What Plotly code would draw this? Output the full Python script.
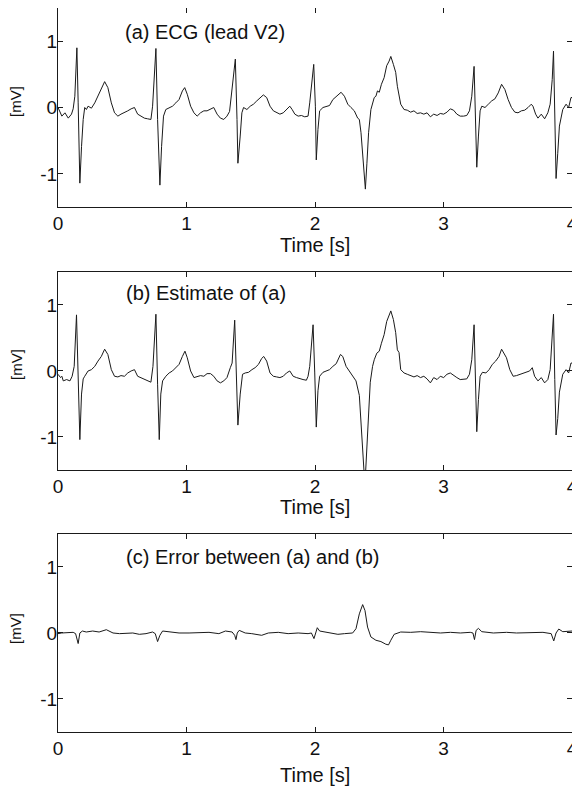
import plotly.graph_objects as go

# (a) ECG lead V2
t_a = [0.00, 0.03, 0.054, 0.08, 0.105, 0.118, 0.131, 0.147, 0.157, 0.170, 0.183, 0.196, 0.208, 0.221, 0.234,
       0.26, 0.286, 0.311, 0.337, 0.363, 0.388, 0.415, 0.44, 0.466, 0.49, 0.517, 0.543, 0.569, 0.595, 0.607,
       0.62, 0.646, 0.672, 0.697, 0.723, 0.736, 0.762, 0.775, 0.793, 0.806, 0.821, 0.839, 0.865, 0.891, 0.917,
       0.942, 0.968, 0.986, 1.006, 1.032, 1.058, 1.083, 1.109, 1.135, 1.16, 1.187, 1.212, 1.238, 1.264, 1.29,
       1.315, 1.335, 1.355, 1.38, 1.393, 1.40, 1.418, 1.431, 1.444, 1.47, 1.496, 1.521, 1.547, 1.573, 1.598,
       1.624, 1.65, 1.676, 1.701, 1.727, 1.753, 1.778, 1.804, 1.822, 1.843, 1.869, 1.894, 1.92, 1.946, 1.959,
       1.972, 1.99, 2.003, 2.01, 2.023, 2.036, 2.062, 2.087, 2.113, 2.139, 2.165, 2.203, 2.229, 2.255, 2.28,
       2.306, 2.332, 2.345, 2.358, 2.371, 2.384, 2.392, 2.404, 2.417, 2.435, 2.448, 2.461, 2.474, 2.486, 2.5,
       2.517, 2.538, 2.558, 2.577, 2.59, 2.61, 2.628, 2.641, 2.654, 2.667, 2.693, 2.718, 2.744, 2.77, 2.795,
       2.821, 2.847, 2.872, 2.898, 2.924, 2.95, 2.975, 3.001, 3.027, 3.053, 3.078, 3.104, 3.13, 3.156, 3.181,
       3.202, 3.22, 3.238, 3.249, 3.259, 3.272, 3.285, 3.298, 3.323, 3.349, 3.375, 3.4, 3.426, 3.452, 3.465,
       3.478, 3.503, 3.529, 3.555, 3.58, 3.606, 3.632, 3.658, 3.683, 3.696, 3.717, 3.735, 3.761, 3.787, 3.812,
       3.83, 3.846, 3.856, 3.866, 3.876, 3.889, 3.902, 3.928, 3.954, 3.974, 3.992, 4.0]
v_a = [0.0, -0.13, -0.08, -0.16, -0.10, -0.02, 0.17, 0.90, 0.07, -1.14, -0.59, -0.18, 0.0, -0.03, 0.02,
       -0.01, 0.07, 0.17, 0.27, 0.39, 0.30, 0.07, -0.08, -0.13, -0.10, -0.08, -0.05, -0.02, 0.0, -0.05,
       -0.10, -0.13, -0.16, -0.17, -0.18, 0.02, 0.89, -0.18, -1.17, -0.59, -0.13, -0.03, 0.0, 0.02, 0.07,
       0.12, 0.25, 0.30, 0.20, 0.02, -0.08, -0.13, -0.08, -0.05, -0.05, -0.03, 0.0, -0.10, -0.16, -0.18,
       -0.13, -0.06, 0.27, 0.73, -0.18, -0.84, -0.43, -0.08, 0.0, -0.03, 0.02, 0.05, 0.10, 0.15, 0.19,
       0.15, 0.02, -0.05, -0.08, -0.10, -0.08, -0.03, 0.02, -0.03, -0.10, -0.13, -0.12, -0.14, -0.13, 0.07,
       0.32, 0.65, 0.02, -0.79, -0.33, -0.05, 0.0, 0.02, 0.03, 0.12, 0.16, 0.23, 0.17, 0.05, 0.0,
       -0.05, -0.16, -0.18, -0.38, -0.69, -1.04, -1.23, -0.84, -0.38, -0.03, 0.07, 0.15, 0.17, 0.25, 0.23,
       0.35, 0.45, 0.63, 0.70, 0.77, 0.65, 0.53, 0.32, 0.20, 0.05, -0.03, -0.04, -0.07, -0.05, -0.09,
       -0.08, -0.10, -0.08, -0.14, -0.10, -0.12, -0.09, -0.10, -0.07, -0.02, -0.04, -0.10, -0.13, -0.13, -0.12,
       -0.05, 0.17, 0.62, -0.18, -0.90, -0.43, -0.05, 0.02, 0.0, 0.05, 0.10, 0.13, 0.22, 0.35, 0.30,
       0.27, 0.12, 0.0, -0.07, -0.08, -0.05, -0.04, 0.0, 0.05, 0.02, -0.10, -0.16, -0.10, -0.17, -0.08,
       0.05, 0.42, 0.85, -0.18, -1.07, -0.69, -0.28, -0.03, 0.05, 0.0, 0.15, 0.15]

# (b) estimate of (a)
t_b = [0.00, 0.02, 0.03, 0.041, 0.067, 0.093, 0.11, 0.126, 0.144, 0.157, 0.17, 0.183, 0.196, 0.208, 0.234,
       0.26, 0.286, 0.311, 0.337, 0.363, 0.388, 0.415, 0.44, 0.466, 0.49, 0.517, 0.543, 0.569, 0.595, 0.62,
       0.646, 0.672, 0.697, 0.723, 0.739, 0.762, 0.775, 0.788, 0.80, 0.814, 0.839, 0.865, 0.891, 0.917, 0.942,
       0.968, 0.988, 1.006, 1.032, 1.058, 1.083, 1.109, 1.135, 1.16, 1.187, 1.212, 1.238, 1.264, 1.29, 1.315,
       1.341, 1.355, 1.375, 1.388, 1.40, 1.418, 1.436, 1.457, 1.483, 1.509, 1.534, 1.56, 1.585, 1.601, 1.624,
       1.65, 1.676, 1.701, 1.727, 1.753, 1.778, 1.804, 1.83, 1.856, 1.881, 1.907, 1.933, 1.946, 1.959, 1.972,
       1.985, 1.998, 2.01, 2.023, 2.036, 2.062, 2.087, 2.113, 2.139, 2.165, 2.198, 2.216, 2.242, 2.268, 2.293,
       2.319, 2.345, 2.358, 2.371, 2.384, 2.392, 2.404, 2.417, 2.43, 2.448, 2.461, 2.481, 2.5, 2.517, 2.538,
       2.558, 2.577, 2.59, 2.61, 2.628, 2.641, 2.654, 2.667, 2.693, 2.718, 2.744, 2.77, 2.795, 2.821, 2.847,
       2.872, 2.898, 2.924, 2.95, 2.975, 3.001, 3.027, 3.053, 3.078, 3.104, 3.13, 3.156, 3.181, 3.202, 3.22,
       3.238, 3.249, 3.259, 3.272, 3.285, 3.303, 3.33, 3.355, 3.38, 3.406, 3.432, 3.452, 3.47, 3.49, 3.516,
       3.542, 3.568, 3.593, 3.619, 3.645, 3.67, 3.691, 3.709, 3.735, 3.761, 3.787, 3.812, 3.83, 3.846, 3.856,
       3.866, 3.876, 3.889, 3.902, 3.928, 3.954, 3.974, 3.992, 4.0]
v_b = [-0.05, -0.10, -0.08, -0.15, -0.13, -0.15, -0.08, 0.07, 0.85, -0.20, -1.04, -0.35, -0.12, -0.08, 0.0,
       0.02, 0.07, 0.15, 0.22, 0.33, 0.25, 0.02, -0.08, -0.09, -0.07, -0.08, -0.03, 0.0, 0.02, -0.08,
       -0.10, -0.13, -0.14, -0.17, 0.07, 0.86, -0.20, -1.04, -0.35, -0.15, -0.08, -0.03, 0.0, 0.05, 0.10,
       0.22, 0.30, 0.20, 0.0, -0.10, -0.09, -0.07, -0.08, -0.04, -0.04, -0.08, -0.15, -0.18, -0.15, -0.10,
       0.05, 0.12, 0.77, -0.13, -0.82, -0.35, -0.05, -0.03, -0.02, 0.02, 0.05, 0.10, 0.19, 0.22, 0.15,
       -0.03, -0.08, -0.09, -0.10, -0.08, -0.03, 0.0, -0.08, -0.10, -0.12, -0.13, -0.14, -0.08, 0.07, 0.37,
       0.70, -0.03, -0.85, -0.30, -0.08, -0.02, 0.0, 0.02, 0.07, 0.11, 0.25, 0.22, 0.07, 0.0, -0.07,
       -0.15, -0.37, -0.72, -1.12, -1.60, -1.60, -1.12, -0.62, -0.17, 0.07, 0.17, 0.27, 0.30, 0.42, 0.55,
       0.75, 0.85, 0.91, 0.78, 0.58, 0.32, 0.28, 0.02, -0.03, -0.05, -0.07, -0.09, -0.07, -0.10, -0.08,
       -0.12, -0.18, -0.10, -0.13, -0.08, -0.10, -0.05, -0.03, -0.07, -0.10, -0.13, -0.12, -0.12, -0.05, 0.17,
       0.70, -0.20, -0.92, -0.43, -0.08, -0.02, -0.03, 0.02, 0.10, 0.15, 0.22, 0.33, 0.27, 0.20, 0.02,
       -0.08, -0.07, -0.05, -0.03, -0.02, 0.0, 0.05, -0.08, -0.15, -0.10, -0.18, -0.13, 0.02, 0.52, 0.86,
       -0.13, -0.97, -0.72, -0.32, -0.05, 0.02, -0.03, 0.12, 0.12]

# (c) error between (a) and (b)
t_c = [0.0, 0.028, 0.118, 0.137, 0.157, 0.17, 0.19, 0.22, 0.27, 0.32, 0.376, 0.428, 0.479, 0.53, 0.582,
       0.633, 0.685, 0.736, 0.757, 0.775, 0.793, 0.814, 0.865, 0.942, 1.02, 1.097, 1.175, 1.252, 1.303, 1.355,
       1.375, 1.385, 1.395, 1.41, 1.457, 1.508, 1.585, 1.637, 1.714, 1.791, 1.869, 1.946, 1.972, 1.992, 2.003,
       2.018, 2.036, 2.075, 2.127, 2.178, 2.23, 2.293, 2.319, 2.345, 2.371, 2.389, 2.409, 2.435, 2.474, 2.513,
       2.551, 2.572, 2.59, 2.616, 2.667, 2.745, 2.822, 2.899, 2.977, 3.054, 3.131, 3.208, 3.229, 3.241, 3.254,
       3.272, 3.298, 3.388, 3.491, 3.568, 3.671, 3.774, 3.838, 3.858, 3.876, 3.897, 3.928, 4.0]
v_c = [-0.01, 0.0, 0.01, -0.01, -0.16, 0.0, 0.03, 0.015, 0.03, 0.015, 0.05, 0.0, -0.01, -0.01, 0.0,
       -0.02, -0.01, 0.015, -0.01, -0.13, -0.035, 0.03, 0.015, 0.0, 0.0, 0.0, 0.01, -0.01, 0.03, 0.015,
       -0.035, -0.10, 0.0, 0.04, 0.0, -0.01, -0.035, 0.0, 0.01, -0.01, 0.0, -0.01, 0.0, -0.085, 0.0,
       0.08, 0.03, 0.015, 0.0, -0.02, -0.01, 0.0, 0.065, 0.29, 0.43, 0.34, 0.09, -0.06, -0.11, -0.13,
       -0.17, -0.18, -0.11, -0.02, 0.015, 0.01, 0.02, 0.01, 0.0, 0.01, 0.0, 0.01, 0.0, -0.10, 0.04,
       0.07, 0.02, 0.0, 0.01, 0.0, 0.01, 0.01, -0.01, -0.12, 0.0, 0.06, 0.02, 0.03]

titles = ["(a) ECG (lead V2)", "(b) Estimate of (a)", "(c) Error between (a) and (b)"]
x_ticks = [0, 1, 2, 3, 4]
y_ticks = [-1, 0, 1]
y_tick_text = ["-1", "0", "1"]

FONT = "Liberation Sans, Arial, Helvetica, sans-serif"
INK = "#1a1a1a"

fig = go.Figure()
series = [(t_a, v_a), (t_b, v_b), (t_c, v_c)]
for i, (t, v) in enumerate(series):
    n = "" if i == 0 else str(i + 1)
    fig.add_trace(go.Scatter(x=t, y=v, mode="lines", line=dict(color=INK, width=1),
                             xaxis="x" + n, yaxis="y" + n, showlegend=False))

domains = [[0.7251, 1.0], [0.3619, 0.6354], [0.0, 0.2735]]
ax_common = dict(showline=True, linecolor=INK, linewidth=1, mirror="ticks", ticks="inside",
                 ticklen=5, tickcolor=INK, showgrid=False, zeroline=False, automargin=False,
                 ticklabeloverflow="allow", tickfont=dict(family=FONT, size=19, color="#111"))
# the page body has an 8px margin, so the figure sits 8px in from the window corner
layout = dict(template="none", width=572, height=783, margin=dict(l=50, r=8, t=0, b=59, pad=0),
              paper_bgcolor="white", plot_bgcolor="white", showlegend=False)
for i, dom in enumerate(domains):
    n = "" if i == 0 else str(i + 1)
    layout["xaxis" + n] = dict(ax_common, domain=[0, 1], range=[0, 4], tickvals=x_ticks,
                               anchor="y" + n, ticklabelstandoff=-1)
    layout["yaxis" + n] = dict(ax_common, domain=dom, range=[-1.5, 1.5], tickvals=y_ticks,
                               ticktext=y_tick_text, anchor="x" + n, ticklabelstandoff=-4)
fig.update_layout(**layout)

ann = []
title_pos = [(0.1265, 0.9669), (0.1284, 0.6064), (0.1284, 0.2417)]
for txt, (x, y) in zip(titles, title_pos):
    ann.append(dict(text=txt, x=x, y=y, xref="paper", yref="paper", xanchor="left", yanchor="middle",
                    showarrow=False, font=dict(family=FONT, size=20, color="#111")))
for y in [0.6727, 0.3108, -0.0594]:
    ann.append(dict(text="Time [s]", x=0.5, y=y, xref="paper", yref="paper", xanchor="center",
                    yanchor="middle", showarrow=False, font=dict(family=FONT, size=20, color="#111")))
for y in [0.8702, 0.5069, 0.1423]:
    ann.append(dict(text="[mV]", x=-0.0817, y=y, xref="paper", yref="paper", xanchor="center",
                    yanchor="middle", textangle=-90, showarrow=False,
                    font=dict(family=FONT, size=15, color="#111")))
fig.update_layout(annotations=ann)

fig.write_html("out.html")
